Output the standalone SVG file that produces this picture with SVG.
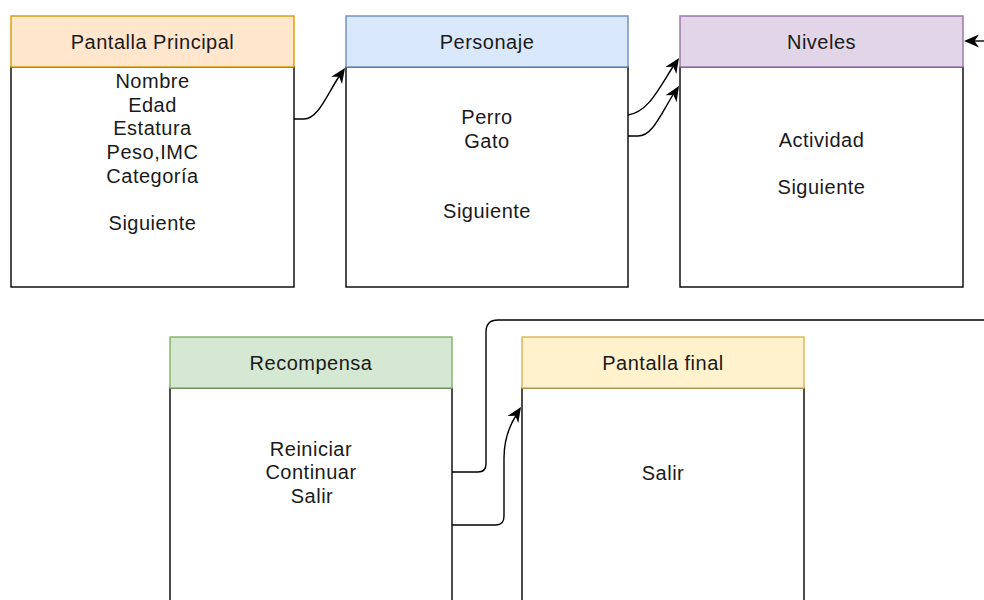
<svg xmlns="http://www.w3.org/2000/svg" xmlns:xlink="http://www.w3.org/1999/xlink" width="984" height="600" viewBox="0 0 984 600">
<style>
.t text{font-family:'Liberation Sans';font-size:20px;letter-spacing:0.5px;fill:#1a1a1a;text-anchor:middle}
.body{fill:#fff;stroke:#000;stroke-width:1.4}
.conn{fill:none;stroke:#000;stroke-width:1.4}
.ah{fill:#000;stroke:none}
</style>
<defs>
<path id="ah" d="M0 0 L-15 -6.5 L-10.5 0 L-15 6.5 Z"/>
</defs>
<rect width="984" height="600" fill="#fff"/>
<g class="t">
<g id="pantalla-principal">
<rect class="body" x="11" y="67" width="283" height="220"/>
<rect x="11" y="16" width="283" height="51" fill="#ffe6cc" stroke="#d79b00" stroke-width="1.4"/>
<text x="152.5" y="49">Pantalla Principal</text>
<text x="152.5" y="88">Nombre</text>
<text x="152.5" y="112">Edad</text>
<text x="152.5" y="135">Estatura</text>
<text x="152.5" y="159">Peso,IMC</text>
<text x="152.5" y="183">Categoría</text>
<text x="152.5" y="230">Siguiente</text>
</g>
<g id="personaje">
<rect class="body" x="346" y="67" width="282" height="220"/>
<rect x="346" y="16" width="282" height="51" fill="#dae8fc" stroke="#6c8ebf" stroke-width="1.4"/>
<text x="487" y="49">Personaje</text>
<text x="487" y="124">Perro</text>
<text x="487" y="148">Gato</text>
<text x="487" y="218">Siguiente</text>
</g>
<g id="niveles">
<rect class="body" x="680" y="67" width="283" height="220"/>
<rect x="680" y="16" width="283" height="51" fill="#e1d5e7" stroke="#9673a6" stroke-width="1.4"/>
<text x="821.5" y="49">Niveles</text>
<text x="821.5" y="147">Actividad</text>
<text x="821.5" y="194">Siguiente</text>
</g>
<g id="recompensa">
<rect class="body" x="170" y="388" width="282" height="230"/>
<rect x="170" y="337" width="282" height="51" fill="#d5e8d4" stroke="#82b366" stroke-width="1.4"/>
<text x="311" y="370">Recompensa</text>
<text x="311" y="456">Reiniciar</text>
<text x="311" y="479">Continuar</text>
<text x="312" y="503">Salir</text>
</g>
<g id="pantalla-final">
<rect class="body" x="522" y="388" width="282" height="230"/>
<rect x="522" y="337" width="282" height="51" fill="#fff2cc" stroke="#d6b656" stroke-width="1.4"/>
<text x="663" y="370">Pantalla final</text>
<text x="663" y="480">Salir</text>
</g>
</g>
<g id="connectors">
<path class="conn" d="M294 119 H304 C318 119 326 96 340 75"/>
<use class="ah" xlink:href="#ah" href="#ah" transform="translate(345,68) rotate(-56)"/>
<path class="conn" d="M628 115 C648 112 658 90 674 65"/>
<use class="ah" xlink:href="#ah" href="#ah" transform="translate(679,58) rotate(-57)"/>
<path class="conn" d="M628 136 H638 C652 136 660 116 674 93"/>
<use class="ah" xlink:href="#ah" href="#ah" transform="translate(679,86) rotate(-58)"/>
<path class="conn" d="M452 472 H478 Q486 472 486 464 V332 Q486 320 498 320 H984"/>
<path class="conn" d="M984 41 H972"/>
<use class="ah" xlink:href="#ah" href="#ah" transform="translate(964,41) rotate(180)"/>
<path class="conn" d="M452 525 H496 Q504 525 504 516 V458 C504 440 509 426 517 414"/>
<use class="ah" xlink:href="#ah" href="#ah" transform="translate(521,407) rotate(-57)"/>
</g>
</svg>
